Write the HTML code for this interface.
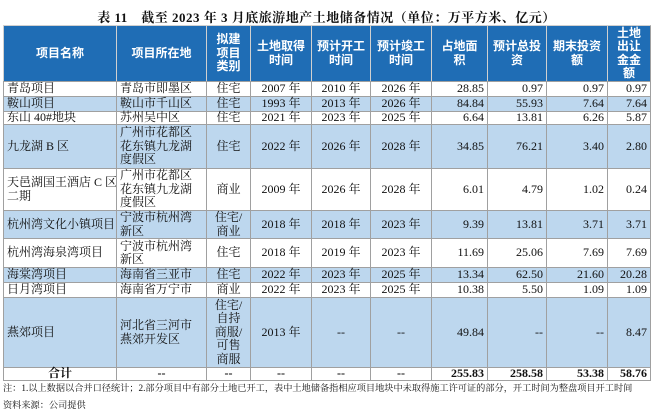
<!DOCTYPE html>
<html><head><meta charset="utf-8"><style>
body{margin:0;background:#fff;width:653px;height:416px;overflow:hidden;position:relative;font-family:"Liberation Serif","Noto Serif CJK SC","Noto Sans CJK SC",serif;color:#111}
.title{position:absolute;left:0;width:653px;top:7px;text-align:center;font-size:13px;font-weight:bold;letter-spacing:0.5px}
.r{position:absolute;left:0;width:653px}
.r>div{position:absolute;top:0;bottom:0;box-sizing:border-box;border-left:1px solid #a0a0a0;border-top:1px solid #a0a0a0;display:flex;align-items:center;padding:0 3px;font-size:12px;line-height:13.5px;white-space:nowrap}
.r>div.last{border-right:1px solid #a0a0a0}
.h>div{background:#1f6db5;color:#fff;font-weight:bold;justify-content:center;text-align:center;font-family:"Liberation Sans","Noto Sans CJK SC",sans-serif;border-color:#d0d0d0}
.s>div{background:#bdd7ee}
.c0{left:3px;width:113px}.c1{left:116px;width:90px}.c2{left:206px;width:44px;justify-content:center;text-align:center}
.c3{left:250px;width:61px;justify-content:center}.c4{left:311px;width:59px;justify-content:center}.c5{left:370px;width:61px;justify-content:center}
.c6{left:431px;width:56px;justify-content:flex-end}.c7{left:487px;width:59px;justify-content:flex-end}.c8{left:546px;width:61px;justify-content:flex-end}.c9{left:607px;width:44px;justify-content:flex-end}
.bot{position:absolute;left:3px;width:648px;top:380px;border-top:1px solid #a0a0a0}
.note{position:absolute;left:3px;font-size:9.2px;white-space:nowrap}
</style></head><body>
<div class="title">表 11　截至 2023 年 3 月底旅游地产土地储备情况（单位：万平方米、亿元）</div>

<div class="r h" style="top:25px;height:56px"><div class="c0">项目名称</div><div class="c1">项目所在地</div><div class="c2">拟建<br>项目<br>类别</div><div class="c3">土地取得<br>时间</div><div class="c4">预计开工<br>时间</div><div class="c5">预计竣工<br>时间</div><div class="c6" style="justify-content:center">占地面<br>积</div><div class="c7" style="justify-content:center">预计总投<br>资</div><div class="c8" style="justify-content:center">期末投资<br>额</div><div class="c9 last" style="justify-content:center">土地<br>出让<br>金金<br>额</div></div>

<div class="r" style="top:81px;height:15px"><div class="c0">青岛项目</div><div class="c1">青岛市即墨区</div><div class="c2">住宅</div><div class="c3">2007 年</div><div class="c4">2010 年</div><div class="c5">2026 年</div><div class="c6">28.85</div><div class="c7">0.97</div><div class="c8">0.97</div><div class="c9 last">0.97</div></div>

<div class="r s" style="top:96px;height:15px"><div class="c0">鞍山项目</div><div class="c1">鞍山市千山区</div><div class="c2">住宅</div><div class="c3">1993 年</div><div class="c4">2013 年</div><div class="c5">2026 年</div><div class="c6">84.84</div><div class="c7">55.93</div><div class="c8">7.64</div><div class="c9 last">7.64</div></div>

<div class="r" style="top:111px;height:13px"><div class="c0">东山 40#地块</div><div class="c1">苏州吴中区</div><div class="c2">住宅</div><div class="c3">2021 年</div><div class="c4">2023 年</div><div class="c5">2025 年</div><div class="c6">6.64</div><div class="c7">13.81</div><div class="c8">6.26</div><div class="c9 last">5.87</div></div>

<div class="r s" style="top:124px;height:44px"><div class="c0">九龙湖 B 区</div><div class="c1">广州市花都区<br>花东镇九龙湖<br>度假区</div><div class="c2">住宅</div><div class="c3">2022 年</div><div class="c4">2026 年</div><div class="c5">2028 年</div><div class="c6">34.85</div><div class="c7">76.21</div><div class="c8">3.40</div><div class="c9 last">2.80</div></div>

<div class="r" style="top:168px;height:42px"><div class="c0">天邑湖国王酒店 C 区<br>二期</div><div class="c1">广州市花都区<br>花东镇九龙湖<br>度假区</div><div class="c2">商业</div><div class="c3">2009 年</div><div class="c4">2026 年</div><div class="c5">2028 年</div><div class="c6">6.01</div><div class="c7">4.79</div><div class="c8">1.02</div><div class="c9 last">0.24</div></div>

<div class="r s" style="top:210px;height:28px"><div class="c0">杭州湾文化小镇项目</div><div class="c1">宁波市杭州湾<br>新区</div><div class="c2">住宅/<br>商业</div><div class="c3">2018 年</div><div class="c4">2018 年</div><div class="c5">2023 年</div><div class="c6">9.39</div><div class="c7">13.81</div><div class="c8">3.71</div><div class="c9 last">3.71</div></div>

<div class="r" style="top:238px;height:29px"><div class="c0">杭州湾海泉湾项目</div><div class="c1">宁波市杭州湾<br>新区</div><div class="c2">住宅</div><div class="c3">2018 年</div><div class="c4">2019 年</div><div class="c5">2023 年</div><div class="c6">11.69</div><div class="c7">25.06</div><div class="c8">7.69</div><div class="c9 last">7.69</div></div>

<div class="r s" style="top:267px;height:15px"><div class="c0">海棠湾项目</div><div class="c1">海南省三亚市</div><div class="c2">住宅</div><div class="c3">2022 年</div><div class="c4">2023 年</div><div class="c5">2025 年</div><div class="c6">13.34</div><div class="c7">62.50</div><div class="c8">21.60</div><div class="c9 last">20.28</div></div>

<div class="r" style="top:282px;height:15px"><div class="c0">日月湾项目</div><div class="c1">海南省万宁市</div><div class="c2">商业</div><div class="c3">2022 年</div><div class="c4">2023 年</div><div class="c5">2025 年</div><div class="c6">10.38</div><div class="c7">5.50</div><div class="c8">1.09</div><div class="c9 last">1.09</div></div>

<div class="r s" style="top:297px;height:70px"><div class="c0">燕郊项目</div><div class="c1">河北省三河市<br>燕郊开发区</div><div class="c2">住宅/<br>自持<br>商服/<br>可售<br>商服</div><div class="c3">2013 年</div><div class="c4">--</div><div class="c5">--</div><div class="c6">49.84</div><div class="c7">--</div><div class="c8">--</div><div class="c9 last">8.47</div></div>

<div class="r" style="top:367px;height:13px;font-weight:bold"><div class="c0" style="justify-content:center;font-weight:bold">合计</div><div class="c1" style="justify-content:center">--</div><div class="c2">--</div><div class="c3">--</div><div class="c4">--</div><div class="c5">--</div><div class="c6" style="font-weight:bold">255.83</div><div class="c7" style="font-weight:bold">258.58</div><div class="c8" style="font-weight:bold">53.38</div><div class="c9 last" style="font-weight:bold">58.76</div></div>
<div class="bot"></div>

<div class="note" style="top:380px">注：1.以上数据以合并口径统计；2.部分项目中有部分土地已开工，表中土地储备指相应项目地块中未取得施工许可证的部分，开工时间为整盘项目开工时间</div>
<div class="note" style="top:397px">资料来源：公司提供</div>
</body></html>
